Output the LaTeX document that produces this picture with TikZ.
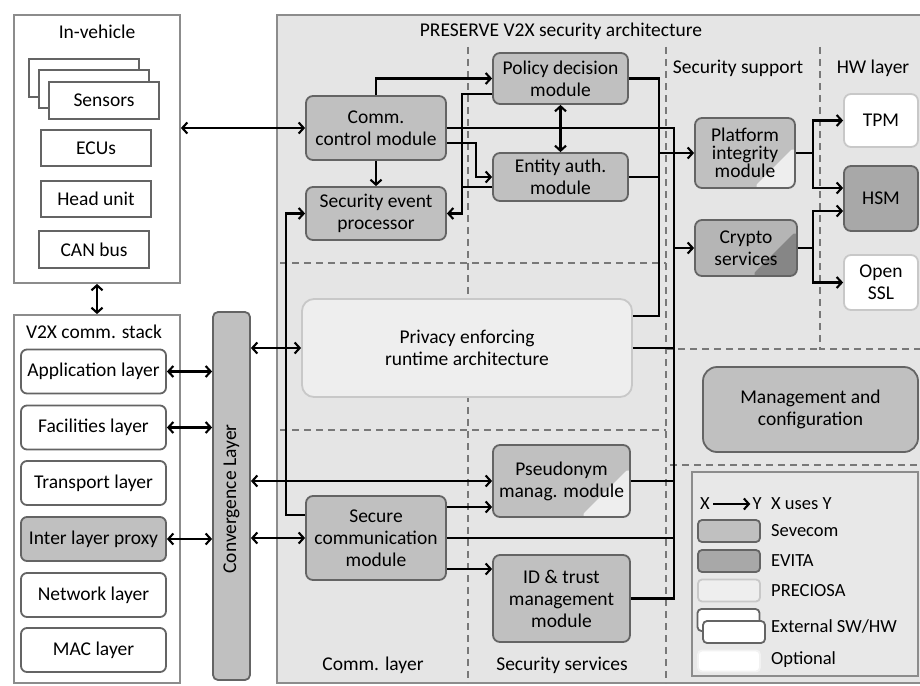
\documentclass[tikz,border=0pt]{standalone}
\usepackage{fontspec}
\setmainfont{Carlito}
\usetikzlibrary{arrows.meta}
\definecolor{bgc}{RGB}{229,229,229}
\definecolor{sevc}{RGB}{192,192,192}
\definecolor{evic}{RGB}{168,168,168}
\definecolor{prec}{RGB}{238,238,238}
\definecolor{precb}{RGB}{200,200,200}
\definecolor{bord}{RGB}{100,100,100}
\definecolor{dashc}{RGB}{120,120,120}
\definecolor{frame}{RGB}{140,140,140}
\begin{document}
\begin{tikzpicture}[x=1pt,y=-1pt,
  font=\fontsize{19.5}{22}\selectfont,
  box/.style={draw=bord, line width=1.8pt, rounded corners=7pt, align=center, inner sep=0pt},
  sev/.style={box, fill=sevc},
  evi/.style={box, fill=evic},
  extbox/.style={box, fill=white},
  pre/.style={box, fill=prec, draw=precb},
  plainbox/.style={draw=bord, line width=1.5pt, fill=white, inner sep=0pt, align=center},
  layerbox/.style={box, rounded corners=6pt, fill=white, minimum width=145pt, minimum height=44pt},
  corner/.style 2 args={path picture={\fill[#1] ([xshift=-#2]path picture bounding box.south east) -- ([yshift=#2]path picture bounding box.south east) -- (path picture bounding box.south east) -- cycle;}},
  ln/.style={line width=2.1pt},
  arr/.style={line width=2.1pt, -{Straight Barb[length=5pt,width=11pt]}},
  dbl/.style={line width=2.1pt, {Straight Barb[length=5pt,width=11pt]}-{Straight Barb[length=5pt,width=11pt]}},
  dsh/.style={draw=dashc, line width=1.1pt, dash pattern=on 7pt off 5pt},
  lbl/.style={inner sep=0pt}
]
\useasboundingbox (0,0) rectangle (920,685);
\fill[white] (0,0) rectangle (920,685);

% main frame
\draw[frame, line width=1.3pt, fill=bgc] (277,15) rectangle (926,683);
\node[lbl] (title) at (561,31) {PRESERVE V2X security architecture};

% dashed partitions
\draw[dsh] (468,47) -- (468,683);
\draw[dsh] (666,47) -- (666,683);
\draw[dsh] (820,47) -- (820,349) -- (920,349);
\draw[dsh] (280,263) -- (666,263);
\draw[dsh] (280,430) -- (666,430);
\draw[dsh] (666,349) -- (820,349);
\draw[dsh] (670,465) -- (920,465);

\node[lbl] (secsup) at (738,68) {Security support};
\node[lbl] (hwl) at (873,68) {HW layer};
\node[lbl] (comml) at (373,665) {Comm. layer};
\node[lbl] (secserv) at (562,665) {Security services};

% In-vehicle
\node[draw=frame, line width=1.8pt, fill=white, minimum width=166pt, minimum height=268pt, inner sep=0pt] (inveh) at (97,149) {};
\node[lbl] (invlbl) at (97,32) {In-vehicle};
\node[plainbox, minimum width=110pt, minimum height=38pt] (s3) at (84,78) {};
\node[plainbox, minimum width=110pt, minimum height=38pt] (s2) at (94,89) {};
\node[plainbox, minimum width=110pt, minimum height=37pt] (s1) at (104,100.5) {Sensors};
\node[plainbox, minimum width=110pt, minimum height=36pt] (ecu) at (96,148) {ECUs};
\node[plainbox, minimum width=110pt, minimum height=36pt] (head) at (96,199) {Head unit};
\node[plainbox, minimum width=110pt, minimum height=37pt] (can) at (94,249.5) {CAN bus};

% V2X stack
\node[draw=frame, line width=1.8pt, fill=white, minimum width=166pt, minimum height=368pt, inner sep=0pt] (v2x) at (97,499) {};
\node[lbl] (v2xlbl) at (94,332) {V2X comm. stack};
\node[layerbox] (app) at (93.5,371.5) {Application layer};
\node[layerbox] (fac) at (93.5,427.5) {Facilities layer};
\node[layerbox] (tra) at (93.5,483) {Transport layer};
\node[layerbox, fill=sevc] (ilp) at (93.5,539) {Inter layer proxy};
\node[layerbox] (net) at (93.5,595) {Network layer};
\node[layerbox] (mac) at (93.5,650) {MAC layer};

% Convergence layer
\node[sev, rounded corners=5pt, minimum width=37pt, minimum height=368pt] (conv) at (231.5,496) {};
\node[lbl, rotate=90] (convlbl) at (231.5,499) {Convergence Layer};

% Modules
\node[sev, minimum width=140pt, minimum height=64pt] (cc) at (376,128) {Comm.\\control module};
\node[sev, minimum width=140pt, minimum height=53pt] (sep) at (376,213.5) {Security event\\processor};
\node[sev, minimum width=135pt, minimum height=51pt] (pdm) at (560.5,78.5) {Policy decision\\module};
\node[sev, minimum width=135pt, minimum height=48pt] (eam) at (560.5,177) {Entity auth.\\module};
\node[pre, rounded corners=12pt, minimum width=330pt, minimum height=98pt] (pera) at (467,348) {Privacy enforcing\\runtime architecture};
\node[sev, corner={prec}{50pt}, minimum width=137pt, minimum height=72pt] (psm) at (561.5,481) {Pseudonym\\manag. module};
\node[sev, minimum width=140pt, minimum height=84pt] (scm) at (376,538) {Secure\\communication\\module};
\node[sev, minimum width=137pt, minimum height=87pt] (idt) at (561.5,598.5) {ID \& trust\\management\\module};
\node[sev, corner={prec}{42pt}, minimum width=100pt, minimum height=70pt, font=\fontsize{19.5}{18}\selectfont] (pim) at (745,153) {Platform\\integrity\\module};
\node[evi, fill=evic!85!white, corner={evic!80!black}{46pt}, minimum width=102pt, minimum height=56pt] (cs) at (746,248) {Crypto\\services};
\node[extbox, draw=precb, minimum width=74pt, minimum height=53pt] (tpm) at (881,120.5) {TPM};
\node[evi, minimum width=74pt, minimum height=65pt] (hsm) at (881,198.5) {HSM};
\node[extbox, draw=precb, minimum width=74pt, minimum height=55pt] (ossl) at (881,282.5) {Open\\SSL};
\node[sev, rounded corners=14pt, minimum width=215pt, minimum height=85pt] (mgmt) at (810.5,409.5) {Management and\\configuration};

% bus coordinates
\coordinate (bA) at (659,0);
\coordinate (bB) at (674,0);
\coordinate (bC) at (813,0);
\coordinate (jl) at (286,0);
\coordinate (jm) at (476,0);
\coordinate (jp) at (462,0);

% connectors
\draw[dbl] (inveh.east |- cc.west) -- (cc.west);
\draw[dbl] (inveh.south) -- (v2x.north);
\draw[dbl] (app.east) -- (conv.west |- app.east);
\draw[dbl] (fac.east) -- (conv.west |- fac.east);
\draw[dbl] (ilp.east) -- (conv.west |- ilp.east);
\draw[dbl] (conv.east |- pera.west) -- (pera.west);
\draw[dbl] (conv.east |- psm.west) -- (psm.west);
\draw[dbl] (conv.east |- scm.west) -- (scm.west);
\draw[arr] (scm.west |- 0,515) -- (jl |- 0,515) |- (sep.west);
\draw[arr] (cc.north) |- (pdm.west);
\draw[arr] (cc.south) -- (sep.north);
\draw[arr] (cc.east |- 0,143) -- (jm |- 0,143) |- (eam.west);
\draw[arr] (pdm.west |- 0,94) -- (jp |- 0,94) |- (sep.east);
\draw[ln] (eam.west |- 0,187) -- (jp |- 0,187);
\draw[dbl] (pdm.south) -- (eam.north);
% bus A
\draw[ln] (pdm.east) -- (bA |- pdm.east) -- (bA |- 0,316) -- (pera.east |- 0,316);
\draw[ln] (eam.east) -- (bA |- eam.east);
\draw[arr] (bA |- pim.west) -- (pim.west);
% bus B
\draw[ln] (cc.east) -- (bB |- cc.east) -- (bB |- idt.east) -- (idt.east);
\draw[ln] (pera.east) -- (bB |- pera.east);
\draw[ln] (psm.east) -- (bB |- psm.east);
\draw[ln] (scm.east) -- (bB |- scm.east);
\draw[arr] (bB |- cs.west) -- (cs.west);
% secure comm outputs
\draw[arr] (scm.east |- 0,507) -- (psm.west |- 0,507);
\draw[arr] (scm.east |- 0,569) -- (idt.west |- 0,569);
% security support to HW
\draw[arr] (pim.east) -- (bC |- pim.east) |- (tpm.west);
\draw[arr] (bC |- pim.east) |- (hsm.west |- 0,188);
\draw[arr] (cs.east) -- (bC |- cs.east) |- (hsm.west |- 0,211);
\draw[arr] (bC |- cs.east) |- (ossl.west);

% legend
\node[draw=frame, line width=1.3pt, fill=bgc!90!white, minimum width=226pt, minimum height=204pt, inner sep=0pt] (legend) at (805,574) {};
\begin{scope}[font=\fontsize{18.5}{20}\selectfont]
\node[lbl] (lx) at (705,504) {X};
\node[lbl] (ly) at (757,504) {Y};
\draw[arr] ([xshift=3pt]lx.east) -- ([xshift=-2pt]ly.west);
\node[lbl, anchor=west] (luse) at (771,504) {X uses Y};
\node[sev, rounded corners=4pt, minimum width=62pt, minimum height=22pt] (lsev) at (729,531) {};
\node[lbl, anchor=west] (lsevt) at (771,531) {Sevecom};
\node[evi, rounded corners=4pt, minimum width=62pt, minimum height=22pt] (levi) at (729,561) {};
\node[lbl, anchor=west] (levit) at (771,561) {EVITA};
\node[pre, rounded corners=4pt, minimum width=62pt, minimum height=22pt] (lpre) at (729,590.5) {};
\node[lbl, anchor=west] (lpret) at (771,590.5) {PRECIOSA};
\node[extbox, rounded corners=4pt, minimum width=62pt, minimum height=22pt] (lext1) at (728.5,620) {};
\node[extbox, rounded corners=4pt, minimum width=62pt, minimum height=22pt] (lext2) at (734,632) {};
\node[lbl, anchor=west] (lextt) at (771,626) {External SW/HW};
\node[box, draw=white!95!black, fill=white, rounded corners=4pt, minimum width=62pt, minimum height=21pt] (lopt) at (729,661) {};
\node[lbl, anchor=west] (loptt) at (771,660) {Optional};
\end{scope}
\end{tikzpicture}
\end{document}
